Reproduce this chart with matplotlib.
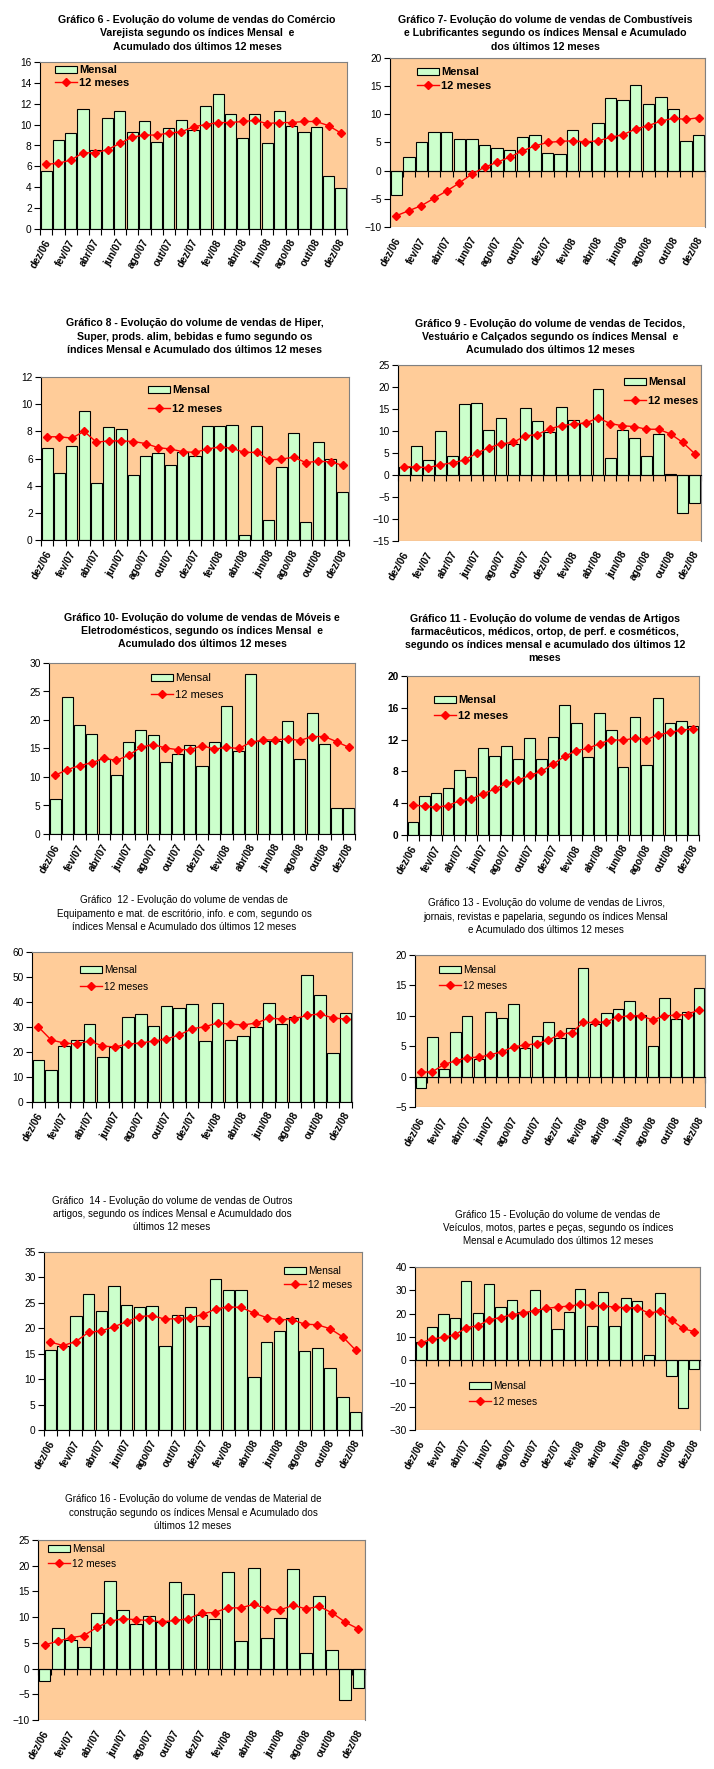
import numpy as np
import matplotlib
matplotlib.use('Agg')
import matplotlib.pyplot as plt
from matplotlib import font_manager
from matplotlib.patches import Patch, Rectangle
from matplotlib.lines import Line2D

# meses (dez/06 a dez/08)
meses = ['dez/06', 'jan/07', 'fev/07', 'mar/07', 'abr/07', 'mai/07', 'jun/07',
         'jul/07', 'ago/07', 'set/07', 'out/07', 'nov/07', 'dez/07', 'jan/08',
         'fev/08', 'mar/08', 'abr/08', 'mai/08', 'jun/08', 'jul/08', 'ago/08',
         'set/08', 'out/08', 'nov/08', 'dez/08']

# Grafico 6 - Comercio varejista
c6_mensal = [5.6, 8.5, 9.2, 11.5, 7.6, 10.6, 11.3, 9.3, 10.3, 8.3, 9.7, 10.4, 9.5,
             11.8, 12.9, 11.0, 8.7, 11.0, 8.2, 11.3, 9.9, 9.3, 9.8, 5.1, 3.9]
c6_12m = [6.2, 6.3, 6.6, 7.3, 7.3, 7.6, 8.2, 8.8, 9.0, 9.0, 9.2, 9.3, 9.8,
          10.0, 10.2, 10.2, 10.3, 10.4, 10.1, 10.2, 10.2, 10.3, 10.3, 9.9, 9.2]
# Grafico 7 - Combustiveis
c7_mensal = [-4.4, 2.5, 5.0, 6.9, 6.8, 5.7, 5.7, 4.6, 4.1, 3.7, 5.9, 6.4, 3.2,
             3.0, 7.3, 5.0, 8.4, 12.9, 12.5, 15.2, 11.8, 13.1, 10.9, 5.2, 6.4]
c7_12m = [-8.0, -7.1, -6.2, -4.9, -3.6, -2.2, -0.6, 0.6, 1.5, 2.4, 3.5, 4.4, 5.0,
          5.2, 5.3, 5.1, 5.3, 5.9, 6.4, 7.4, 8.0, 8.8, 9.3, 9.1, 9.4]
# Grafico 8 - Hiper, super
c8_mensal = [6.8, 4.9, 6.95, 9.5, 4.2, 8.3, 8.2, 4.8, 6.2, 6.4, 5.5, 6.5, 6.2,
             8.4, 8.4, 8.5, 0.4, 8.4, 1.5, 5.4, 7.9, 1.3, 7.25, 6.0, 3.5]
c8_12m = [7.6, 7.6, 7.5, 8.0, 7.2, 7.3, 7.3, 7.25, 7.1, 6.8, 6.7, 6.5, 6.45,
          6.7, 6.85, 6.75, 6.45, 6.45, 5.9, 5.95, 6.1, 5.7, 5.8, 5.75, 5.5]
# Grafico 9 - Tecidos
c9_mensal = [1.9, 6.6, 3.3, 9.9, 4.3, 16.1, 16.3, 10.2, 13.0, 7.0, 15.2, 12.2, 9.7,
             15.4, 12.4, 11.9, 19.5, 3.9, 10.2, 8.3, 4.3, 9.3, 0.3, -8.7, -6.4]
c9_12m = [1.9, 1.8, 1.7, 2.3, 2.8, 3.4, 5.0, 6.2, 7.1, 7.4, 8.9, 9.2, 10.5,
          11.2, 11.6, 11.8, 13.0, 11.7, 11.2, 11.0, 10.4, 10.4, 9.3, 7.4, 4.8]
# Grafico 10 - Moveis
c10_mensal = [6.2, 24.0, 19.2, 17.6, 13.1, 10.3, 16.2, 18.3, 17.3, 12.7, 14.0, 15.6, 11.9,
              16.1, 22.4, 14.5, 28.0, 16.3, 16.3, 19.8, 13.1, 21.3, 15.8, 4.5, 4.5]
c10_12m = [10.3, 11.3, 12.0, 12.5, 13.3, 12.9, 13.8, 15.2, 15.7, 15.1, 14.8, 14.8, 15.5,
           14.9, 15.2, 15.0, 16.1, 16.5, 16.5, 16.7, 16.4, 17.1, 17.1, 16.2, 15.2]
# Grafico 11 - Farmaceuticos
c11_mensal = [1.6, 4.9, 5.25, 5.9, 8.2, 7.3, 10.9, 10.0, 11.2, 9.5, 12.2, 9.5, 12.3,
              16.3, 14.1, 9.8, 15.3, 13.2, 8.6, 14.9, 8.8, 17.2, 14.1, 14.3, 13.7]
c11_12m = [3.8, 3.6, 3.5, 3.7, 4.3, 4.5, 5.2, 5.75, 6.5, 6.9, 7.5, 8.0, 8.9,
           9.9, 10.6, 10.9, 11.5, 12.0, 11.9, 12.2, 12.0, 12.6, 12.9, 13.2, 13.35]
# Grafico 12 - Equipamento escritorio
c12_mensal = [17.0, 13.0, 22.6, 24.8, 31.2, 18.0, 22.0, 34.0, 35.2, 30.5, 38.4, 37.6, 39.2,
              24.4, 39.6, 24.8, 26.4, 30.0, 39.6, 31.2, 34.1, 50.8, 42.8, 19.6, 35.6]
c12_12m = [30.0, 24.8, 23.6, 23.2, 24.4, 22.4, 22.0, 23.2, 23.6, 24.4, 25.2, 26.8, 29.3,
           30.1, 31.6, 31.2, 30.8, 31.6, 33.5, 33.2, 33.2, 34.7, 35.2, 33.6, 33.2]
# Grafico 13 - Livros
c13_mensal = [-1.8, 6.5, 1.3, 7.4, 10.0, 2.9, 10.6, 9.7, 11.9, 4.7, 6.7, 9.0, 6.4,
              8.0, 17.9, 8.7, 10.4, 11.2, 12.4, 10.1, 5.1, 12.9, 9.5, 10.6, 14.5]
c13_12m = [0.7, 0.8, 2.0, 2.6, 3.1, 3.2, 3.6, 4.1, 4.9, 5.2, 5.4, 6.0, 7.0,
           7.2, 8.9, 8.9, 9.0, 9.8, 10.0, 10.0, 9.3, 10.0, 10.1, 10.2, 11.0]
# Grafico 14 - Outros artigos
c14_mensal = [15.7, 16.5, 22.5, 26.8, 23.4, 28.4, 24.6, 24.2, 24.4, 16.5, 22.6, 24.2, 20.4,
              29.7, 27.6, 27.6, 10.4, 17.3, 19.4, 22.0, 15.6, 16.1, 12.2, 6.45, 3.5]
c14_12m = [17.3, 16.6, 17.4, 19.2, 19.5, 20.3, 21.3, 22.3, 22.5, 21.8, 21.9, 22.1, 22.7,
           23.8, 24.2, 24.1, 23.0, 22.1, 21.7, 21.7, 20.8, 20.7, 19.9, 18.3, 15.7]
# Grafico 15 - Veiculos
c15_mensal = [8.0, 14.4, 19.9, 18.1, 34.0, 20.3, 32.7, 22.9, 25.9, 20.5, 30.1, 22.1, 13.4,
              20.7, 30.7, 14.7, 29.3, 14.7, 26.7, 25.4, 2.2, 28.9, -7.0, -20.5, -4.0]
c15_12m = [7.5, 9.0, 9.9, 10.8, 14.0, 14.7, 17.3, 18.3, 19.5, 20.3, 21.3, 22.2, 22.8,
           23.2, 23.9, 23.5, 23.3, 22.8, 22.5, 22.5, 20.2, 21.0, 17.3, 13.6, 12.2]
# Grafico 16 - Material de construcao
c16_mensal = [-2.4, 7.9, 5.6, 4.2, 10.8, 17.1, 11.4, 8.7, 10.3, 9.0, 16.9, 14.5, 10.5,
              9.7, 18.8, 5.4, 19.6, 6.0, 9.9, 19.4, 3.1, 14.2, 3.7, -6.2, -3.7]
c16_12m = [4.6, 5.3, 6.0, 6.4, 8.0, 9.2, 9.7, 9.5, 9.35, 9.1, 9.35, 9.7, 10.8,
           10.9, 11.8, 11.8, 12.5, 11.6, 11.4, 12.3, 11.6, 12.1, 10.8, 9.0, 7.7]

titulos = {
    6: 'Gráfico 6 - Evolução do volume de vendas do Comércio\nVarejista segundo os índices Mensal  e\nAcumulado dos últimos 12 meses',
    7: 'Gráfico 7- Evolução do volume de vendas de Combustíveis\ne Lubrificantes segundo os índices Mensal e Acumulado\ndos últimos 12 meses',
    8: 'Gráfico 8 - Evolução do volume de vendas de Hiper,\nSuper, prods. alim, bebidas e fumo segundo os\níndices Mensal e Acumulado dos últimos 12 meses',
    9: 'Gráfico 9 - Evolução do volume de vendas de Tecidos,\nVestuário e Calçados segundo os índices Mensal  e\nAcumulado dos últimos 12 meses',
    10: 'Gráfico 10- Evolução do volume de vendas de Móveis e\nEletrodomésticos, segundo os índices Mensal  e\nAcumulado dos últimos 12 meses',
    11: 'Gráfico 11 - Evolução do volume de vendas de Artigos\nfarmacêuticos, médicos, ortop, de perf. e cosméticos,\nsegundo os índices mensal e acumulado dos últimos 12\nmeses',
    12: 'Gráfico  12 - Evolução do volume de vendas de\nEquipamento e mat. de escritório, info. e com, segundo os\níndices Mensal e Acumulado dos últimos 12 meses',
    13: 'Gráfico 13 - Evolução do volume de vendas de Livros,\njornais, revistas e papelaria, segundo os índices Mensal\ne Acumulado dos últimos 12 meses',
    14: 'Gráfico  14 - Evolução do volume de vendas de Outros\nartigos, segundo os índices Mensal e Acumuldado dos\núltimos 12 meses',
    15: 'Gráfico 15 - Evolução do volume de vendas de\nVeículos, motos, partes e peças, segundo os índices\nMensal e Acumulado dos últimos 12 meses',
    16: 'Gráfico 16 - Evolução do volume de vendas de Material de\nconstrução segundo os índices Mensal e Acumulado dos\núltimos 12 meses',
}

W, H = 714, 1769
nomes = {f.name for f in font_manager.fontManager.ttflist}
NARROW = 'Liberation Sans Narrow' if 'Liberation Sans Narrow' in nomes else 'Liberation Sans'
plt.rcParams['font.family'] = ['Liberation Sans', 'DejaVu Sans']

fig = plt.figure(figsize=(W / 100, H / 100), dpi=100)


def grafico(num, mensal, m12, caixa, ylim, passo, tit_xy, leg_xy, leg_gap,
            negrito=True, leg_negrito=True, ytick_negrito=False):
    l, t, r, b = caixa
    ax = fig.add_axes([l / W, 1 - b / H, (r - l) / W, (b - t) / H])
    x = np.arange(len(mensal))
    ax.bar(x, mensal, width=0.9, color='#CCFFCC', edgecolor='black', linewidth=0.8, zorder=2)
    ax.plot(x, m12, color='red', lw=1, marker='D', ms=4, zorder=3)
    ax.set_xlim(-0.5, 24.5)
    ax.set_ylim(*ylim)
    ax.set_yticks(np.arange(ylim[0], ylim[1] + 0.01, passo))
    ax.set_facecolor('#FFCC99')
    for s in ['top', 'right']:
        ax.spines[s].set_color('#808080')
    ax.spines['bottom'].set_position(('data', 0))
    if ylim[0] < 0:
        ax.add_patch(Rectangle((0, 0), 1, 1, transform=ax.transAxes, fill=False,
                               edgecolor='#808080', lw=0.8, zorder=1))
    ax.set_xticks(np.arange(-0.5, 25, 1))
    ax.set_xticklabels([])
    ax.tick_params(axis='x', length=4, width=0.8, direction='out')
    ax.tick_params(axis='y', length=4, width=0.8, labelsize=7.3, pad=2)
    if ytick_negrito:
        for lb in ax.get_yticklabels():
            lb.set_fontweight('bold')
    for k in range(0, 25, 2):
        ax.annotate(meses[k], xy=(k, 0), xycoords=('data', 'axes fraction'),
                    xytext=(1.5, -8), textcoords='offset points', rotation=60,
                    ha='right', va='center', rotation_mode='anchor',
                    fontsize=7.3, family=NARROW, fontweight='bold')

    if negrito:
        fig.text(tit_xy[0] / W, 1 - tit_xy[1] / H, titulos[num], ha='center', va='center',
                 multialignment='center', fontsize=7.6, family=NARROW,
                 fontweight='bold', linespacing=1.4)
    else:
        fig.text(tit_xy[0] / W, 1 - tit_xy[1] / H, titulos[num], ha='center', va='center',
                 multialignment='center', fontsize=7.1, linespacing=1.4)

    alcas = [Patch(facecolor='#CCFFCC', edgecolor='black', lw=0.8, label='Mensal'),
             Line2D([], [], color='red', lw=1, marker='D', ms=4, label='12 meses')]
    if negrito:
        prop = dict(family=NARROW, size=8, weight='bold' if leg_negrito else 'normal')
    else:
        prop = dict(size=7.3)
    fs = prop['size'] * 100 / 72
    ax.legend(handles=alcas, loc='upper left',
              bbox_to_anchor=(leg_xy[0] / W, 1 - (leg_xy[1] - fs * 0.6) / H),
              bbox_transform=fig.transFigure, frameon=False, borderpad=0,
              borderaxespad=0, handlelength=22 / fs, handletextpad=0.2,
              labelspacing=(leg_gap - fs * 1.1) / fs, prop=prop)
    return ax


grafico(6, c6_mensal, c6_12m, (40, 62, 347, 229), (0, 16), 2, (197, 33.5), (55, 72), 15)
grafico(7, c7_mensal, c7_12m, (390, 58, 705, 227), (-10, 20), 5, (545, 33.5), (417, 74), 16)
grafico(8, c8_mensal, c8_12m, (41, 377, 349, 540), (0, 12), 2, (195, 336.5), (148, 392), 21)
grafico(9, c9_mensal, c9_12m, (398, 365, 701, 541), (-15, 25), 5, (550, 337), (624, 384), 21)
grafico(10, c10_mensal, c10_12m, (49, 663, 355, 834), (0, 30), 5, (202, 631), (151, 680), 19,
        leg_negrito=False)
grafico(11, c11_mensal, c11_12m, (407, 676, 699, 835), (0, 20), 4, (545, 638.5), (434, 702), 18,
        ytick_negrito=True)
grafico(12, c12_mensal, c12_12m, (32, 952, 352, 1102), (0, 60), 10, (184, 913.5), (80, 971), 18,
        negrito=False)
grafico(13, c13_mensal, c13_12m, (415, 955, 705, 1107), (-5, 20), 5, (546, 916.5), (439, 971), 17,
        negrito=False)
grafico(14, c14_mensal, c14_12m, (44, 1252, 362, 1430), (0, 35), 5, (172, 1214), (284, 1272), 15,
        negrito=False)
grafico(15, c15_mensal, c15_12m, (415, 1267, 700, 1430), (-30, 40), 10, (558, 1228), (469, 1387), 17,
        negrito=False)
grafico(16, c16_mensal, c16_12m, (38, 1540, 365, 1720), (-10, 25), 5, (193, 1512.5), (48, 1550), 16,
        negrito=False)

fig.savefig('out.png', dpi=100)
